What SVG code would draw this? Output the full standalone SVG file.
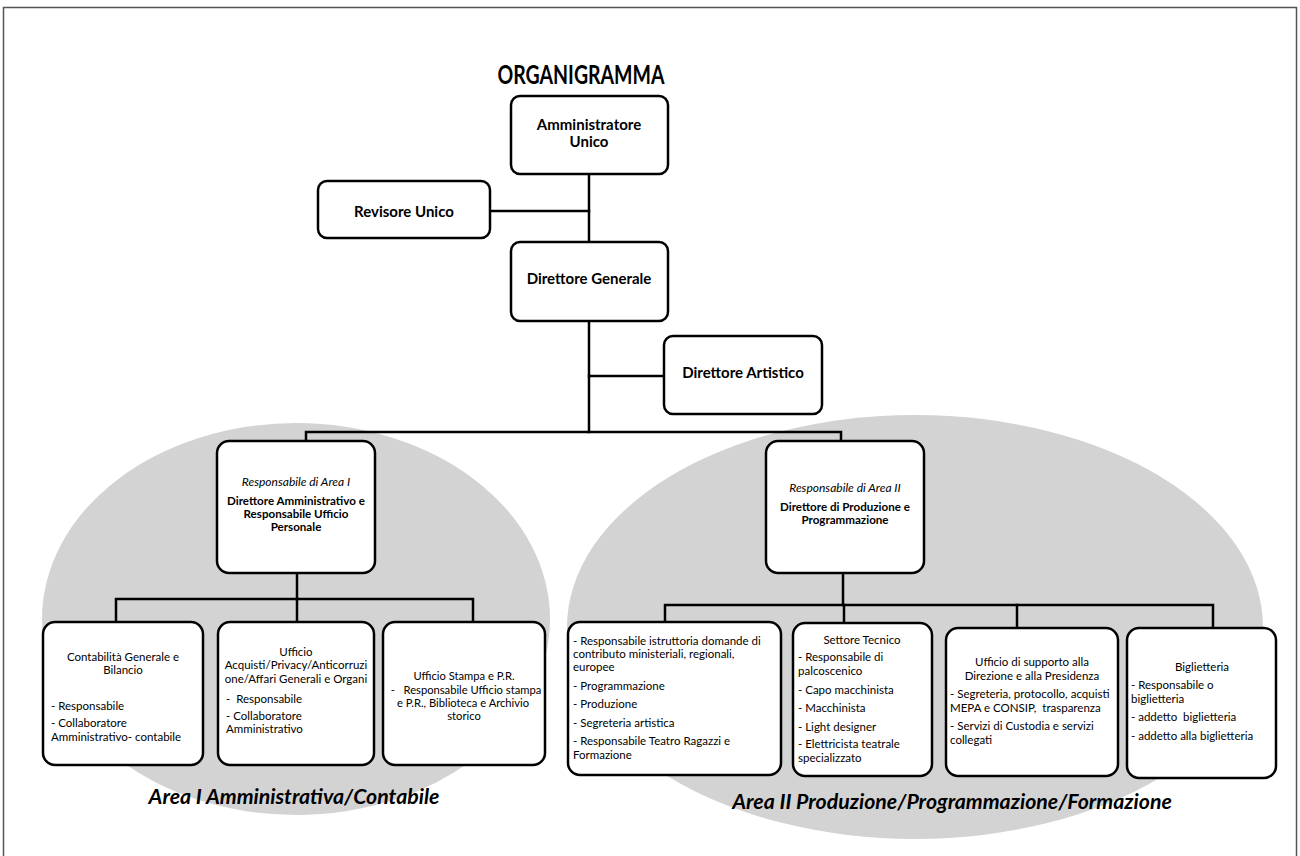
<svg xmlns="http://www.w3.org/2000/svg" width="1300" height="856" viewBox="0 0 1300 856">
  <style>
    .frame { fill: #ffffff; stroke: #555555; stroke-width: 1.5; }
    .area { fill: #d3d3d3; stroke: none; }
    .box { fill: #ffffff; stroke: #000000; stroke-width: 2.5; }
    .wire { fill: none; stroke: #000000; stroke-width: 2.5; stroke-linecap: square; }
    text { font-family: Lato, "Liberation Sans", sans-serif; fill: #000000; }
    .title { font-size: 26px; font-weight: bold; text-anchor: middle; }
    .top { font-size: 15px; font-weight: bold; text-anchor: middle; }
    .role { font-size: 12px; font-style: italic; text-anchor: middle; }
    .head { font-size: 11.6px; font-weight: bold; text-anchor: middle; }
    .t { font-size: 11.5px; }
    .s { font-size: 11.2px; }
    .c { text-anchor: middle; }
    .areaname { font-size: 21.3px; font-weight: bold; font-style: italic; text-anchor: middle; }
  </style>

  <!-- page frame -->
  <rect class="frame" x="3.5" y="7.5" width="1293" height="880"/>

  <!-- shaded areas -->
  <g id="area-1">
    <ellipse class="area" cx="296" cy="619" rx="254" ry="196"/>
    <text class="areaname" x="294" y="804">Area I Amministrativa/Contabile</text>
  </g>
  <g id="area-2">
    <ellipse class="area" cx="915" cy="627" rx="348" ry="212"/>
    <text class="areaname" x="952" y="809">Area II Produzione/Programmazione/Formazione</text>
  </g>

  <text class="title" x="581" y="84" textLength="167" lengthAdjust="spacingAndGlyphs">ORGANIGRAMMA</text>

  <!-- connectors -->
  <g id="connectors">
    <path class="wire" d="M589 174 V242"/>
    <path class="wire" d="M490 211 H589"/>
    <path class="wire" d="M589 321 V432"/>
    <path class="wire" d="M589 376 H664"/>
    <path class="wire" d="M306 441 V432 H841 V441"/>
    <path class="wire" d="M297 573 V599"/>
    <path class="wire" d="M116 622 V599 H473 V622"/>
    <path class="wire" d="M297 599 V622"/>
    <path class="wire" d="M843 573 V605"/>
    <path class="wire" d="M665 622 V605 H1213 V628"/>
    <path class="wire" d="M844 605 V623"/>
    <path class="wire" d="M1017 605 V628"/>
  </g>

  <!-- top management -->
  <g id="amministratore-unico">
    <rect class="box" x="511" y="96" width="157" height="78" rx="9"/>
    <text class="top" x="589" y="130">Amministratore</text>
    <text class="top" x="589" y="147">Unico</text>
  </g>
  <g id="revisore-unico">
    <rect class="box" x="318" y="181" width="172" height="57" rx="9"/>
    <text class="top" x="404" y="217">Revisore Unico</text>
  </g>
  <g id="direttore-generale">
    <rect class="box" x="511" y="242" width="157" height="79" rx="9"/>
    <text class="top" x="589" y="284">Direttore Generale</text>
  </g>
  <g id="direttore-artistico">
    <rect class="box" x="664" y="336" width="158" height="78" rx="9"/>
    <text class="top" x="743" y="378">Direttore Artistico</text>
  </g>

  <!-- area heads -->
  <g id="responsabile-area-1">
    <rect class="box" x="217" y="441" width="158" height="132" rx="12"/>
    <text class="role" x="296" y="486">Responsabile di Area I</text>
    <text class="head" x="296" y="505">Direttore Amministrativo e</text>
    <text class="head" x="296" y="518">Responsabile Ufficio</text>
    <text class="head" x="296" y="531">Personale</text>
  </g>
  <g id="responsabile-area-2">
    <rect class="box" x="766" y="441" width="158" height="132" rx="12"/>
    <text class="role" x="845" y="492">Responsabile di Area II</text>
    <text class="head" x="845" y="511">Direttore di Produzione e</text>
    <text class="head" x="845" y="524">Programmazione</text>
  </g>

  <!-- area I offices -->
  <g id="contabilita">
    <rect class="box" x="43" y="622" width="160" height="143" rx="12"/>
    <text class="t c" x="123" y="661">Contabilità Generale e</text>
    <text class="t c" x="123" y="674">Bilancio</text>
    <text class="t" x="51" y="710">- Responsabile</text>
    <text class="t" x="51" y="727">- Collaboratore</text>
    <text class="t" x="51" y="741">Amministrativo- contabile</text>
  </g>
  <g id="ufficio-acquisti">
    <rect class="box" x="218" y="622" width="156" height="143" rx="12"/>
    <text class="t c" x="296" y="656">Ufficio</text>
    <text class="t c" x="296" y="669">Acquisti/Privacy/Anticorruzi</text>
    <text class="t c" x="296" y="683">one/Affari Generali e Organi</text>
    <text class="t" x="226" y="703" xml:space="preserve">-  Responsabile</text>
    <text class="t" x="226" y="720">- Collaboratore</text>
    <text class="t" x="226" y="733">Amministrativo</text>
  </g>
  <g id="ufficio-stampa">
    <rect class="box" x="383" y="622" width="162" height="143" rx="12"/>
    <text class="s c" x="464" y="680">Ufficio Stampa e P.R.</text>
    <text class="s c" x="466" y="694" xml:space="preserve">-   Responsabile Ufficio stampa</text>
    <text class="s c" x="463" y="707">e P.R., Biblioteca e Archivio</text>
    <text class="s c" x="464" y="720">storico</text>
  </g>

  <!-- area II offices -->
  <g id="programmazione">
    <rect class="box" x="568" y="622" width="213" height="153" rx="12"/>
    <text class="t" x="573" y="645">- Responsabile istruttoria domande di</text>
    <text class="t" x="573" y="658">contributo ministeriali, regionali,</text>
    <text class="t" x="573" y="671">europee</text>
    <text class="t" x="573" y="690">- Programmazione</text>
    <text class="t" x="573" y="708">- Produzione</text>
    <text class="t" x="573" y="727">- Segreteria artistica</text>
    <text class="t" x="573" y="745">- Responsabile Teatro Ragazzi e</text>
    <text class="t" x="573" y="759">Formazione</text>
  </g>
  <g id="settore-tecnico">
    <rect class="box" x="793" y="623" width="139" height="153" rx="12"/>
    <text class="t c" x="862" y="644">Settore Tecnico</text>
    <text class="t" x="798" y="661">- Responsabile di</text>
    <text class="t" x="798" y="675">palcoscenico</text>
    <text class="t" x="798" y="694">- Capo macchinista</text>
    <text class="t" x="798" y="712">- Macchinista</text>
    <text class="t" x="798" y="731">- Light designer</text>
    <text class="t" x="798" y="748">- Elettricista teatrale</text>
    <text class="t" x="798" y="762">specializzato</text>
  </g>
  <g id="ufficio-supporto">
    <rect class="box" x="946" y="628" width="172" height="148" rx="12"/>
    <text class="t c" x="1032" y="666">Ufficio di supporto alla</text>
    <text class="t c" x="1032" y="680">Direzione e alla Presidenza</text>
    <text class="t" x="950" y="698">- Segreteria, protocollo, acquisti</text>
    <text class="t" x="950" y="712" xml:space="preserve">MEPA e CONSIP,  trasparenza</text>
    <text class="t" x="950" y="730">- Servizi di Custodia e servizi</text>
    <text class="t" x="950" y="744">collegati</text>
  </g>
  <g id="biglietteria">
    <rect class="box" x="1127" y="628" width="149" height="150" rx="12"/>
    <text class="t c" x="1202" y="671">Biglietteria</text>
    <text class="t" x="1131" y="689">- Responsabile o</text>
    <text class="t" x="1131" y="703">biglietteria</text>
    <text class="t" x="1131" y="721" xml:space="preserve">- addetto  biglietteria</text>
    <text class="t" x="1131" y="740">- addetto alla biglietteria</text>
  </g>
</svg>
